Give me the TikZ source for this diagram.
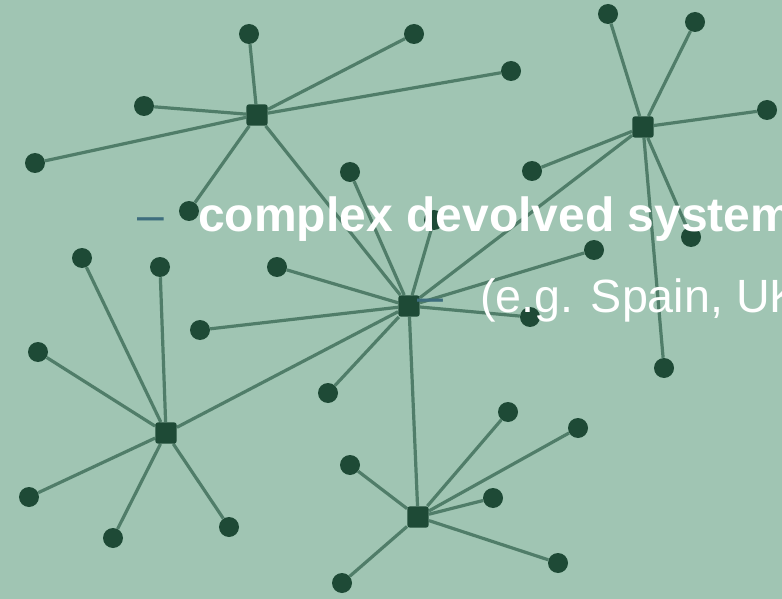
\documentclass[tikz,border=0pt]{standalone}
\usepackage{fontspec}
\setmainfont{Liberation Sans}
\usetikzlibrary{backgrounds}

\definecolor{bggreen}{HTML}{A0C5B3}
\definecolor{dotgreen}{HTML}{1E4A36}
\definecolor{linkgreen}{HTML}{507D69}
\definecolor{dashblue}{HTML}{3E6E7E}

\tikzset{
        hub/.style = {rectangle, rounded corners=2pt, fill=dotgreen, minimum size=16pt, inner sep=0pt},
        leaf/.style = {circle, fill=dotgreen, minimum size=15pt, inner sep=0pt},
        link/.style = {draw=linkgreen, line width=2.4pt},
        bullet/.style = {text=dashblue, inner sep=0pt, anchor=base west},
        headline/.style = {text=white, font=\fontsize{36}{40}\selectfont\bfseries, inner sep=0pt, anchor=base west},
        subline/.style = {text=white, font=\fontsize{35}{40}\selectfont, inner sep=0pt, anchor=base west}
    }

\begin{document}
\begin{tikzpicture}[x=0.75pt,y=-0.75pt]
            \useasboundingbox (0,0) rectangle (782,599);
            \clip (0,0) rectangle (782,599);

            % hubs
            \node[hub] (h1) at (257,115) {};
            \node[hub] (h2) at (643,127) {};
            \node[hub] (hc) at (409,306) {};
            \node[hub] (hl) at (166,433) {};
            \node[hub] (hb) at (418,517) {};

            % leaves of the upper left hub
            \node[leaf] (a1) at (249,34) {};
            \node[leaf] (a2) at (144,106) {};
            \node[leaf] (a3) at (35,163) {};
            \node[leaf] (a4) at (189,211) {};
            \node[leaf] (a5) at (414,34) {};
            \node[leaf] (a6) at (511,71) {};

            % leaves of the upper right hub
            \node[leaf] (b1) at (608,14) {};
            \node[leaf] (b2) at (695,22) {};
            \node[leaf] (b3) at (767,110) {};
            \node[leaf] (b4) at (532,171) {};
            \node[leaf] (b5) at (691,237) {};
            \node[leaf] (b6) at (664,368) {};

            % leaves of the centre hub
            \node[leaf] (c1) at (350,172) {};
            \node[leaf] (c2) at (277,267) {};
            \node[leaf] (c3) at (200,330) {};
            \node[leaf] (c4) at (328,393) {};
            \node[leaf] (c5) at (434,220) {};
            \node[leaf] (c6) at (594,250) {};
            \node[leaf] (c7) at (530,317) {};

            % leaves of the lower left hub
            \node[leaf] (d1) at (82,258) {};
            \node[leaf] (d2) at (160,267) {};
            \node[leaf] (d3) at (38,352) {};
            \node[leaf] (d4) at (29,497) {};
            \node[leaf] (d5) at (113,538) {};
            \node[leaf] (d6) at (229,527) {};

            % leaves of the bottom hub
            \node[leaf] (e1) at (350,465) {};
            \node[leaf] (e2) at (508,412) {};
            \node[leaf] (e3) at (578,428) {};
            \node[leaf] (e4) at (493,498) {};
            \node[leaf] (e5) at (558,563) {};
            \node[leaf] (e6) at (342,583) {};

            \begin{scope}[on background layer]
                \fill[bggreen] (0,0) rectangle (782,599);
                \draw[link] (h1) -- (a1);
                \draw[link] (h1) -- (a2);
                \draw[link] (h1) -- (a3);
                \draw[link] (h1) -- (a4);
                \draw[link] (h1) -- (a5);
                \draw[link] (h1) -- (a6);
                \draw[link] (h2) -- (b1);
                \draw[link] (h2) -- (b2);
                \draw[link] (h2) -- (b3);
                \draw[link] (h2) -- (b4);
                \draw[link] (h2) -- (b5);
                \draw[link] (h2) -- (b6);
                \draw[link] (hc) -- (c1);
                \draw[link] (hc) -- (c2);
                \draw[link] (hc) -- (c3);
                \draw[link] (hc) -- (c4);
                \draw[link] (hc) -- (c5);
                \draw[link] (hc) -- (c6);
                \draw[link] (hc) -- (c7);
                \draw[link] (hl) -- (d1);
                \draw[link] (hl) -- (d2);
                \draw[link] (hl) -- (d3);
                \draw[link] (hl) -- (d4);
                \draw[link] (hl) -- (d5);
                \draw[link] (hl) -- (d6);
                \draw[link] (hb) -- (e1);
                \draw[link] (hb) -- (e2);
                \draw[link] (hb) -- (e3);
                \draw[link] (hb) -- (e4);
                \draw[link] (hb) -- (e5);
                \draw[link] (hb) -- (e6);
                % hub to hub
                \draw[link] (hc) -- (h1);
                \draw[link] (hc) -- (h2);
                \draw[link] (hc) -- (hl);
                \draw[link] (hc) -- (hb);
            \end{scope}

            % bullet text
            \node[bullet,font=\fontsize{36}{40}\selectfont] (dash1) at (137,232) {–};
            \node[headline] (line1) at (198,232) {complex devolved system};
            \node[bullet,font=\fontsize{35}{40}\selectfont] (dash2) at (417,312) {–};
            \node[subline] (line2) at (480,312) {(e.g. Spain, UK};
        \end{tikzpicture}
\end{document}
